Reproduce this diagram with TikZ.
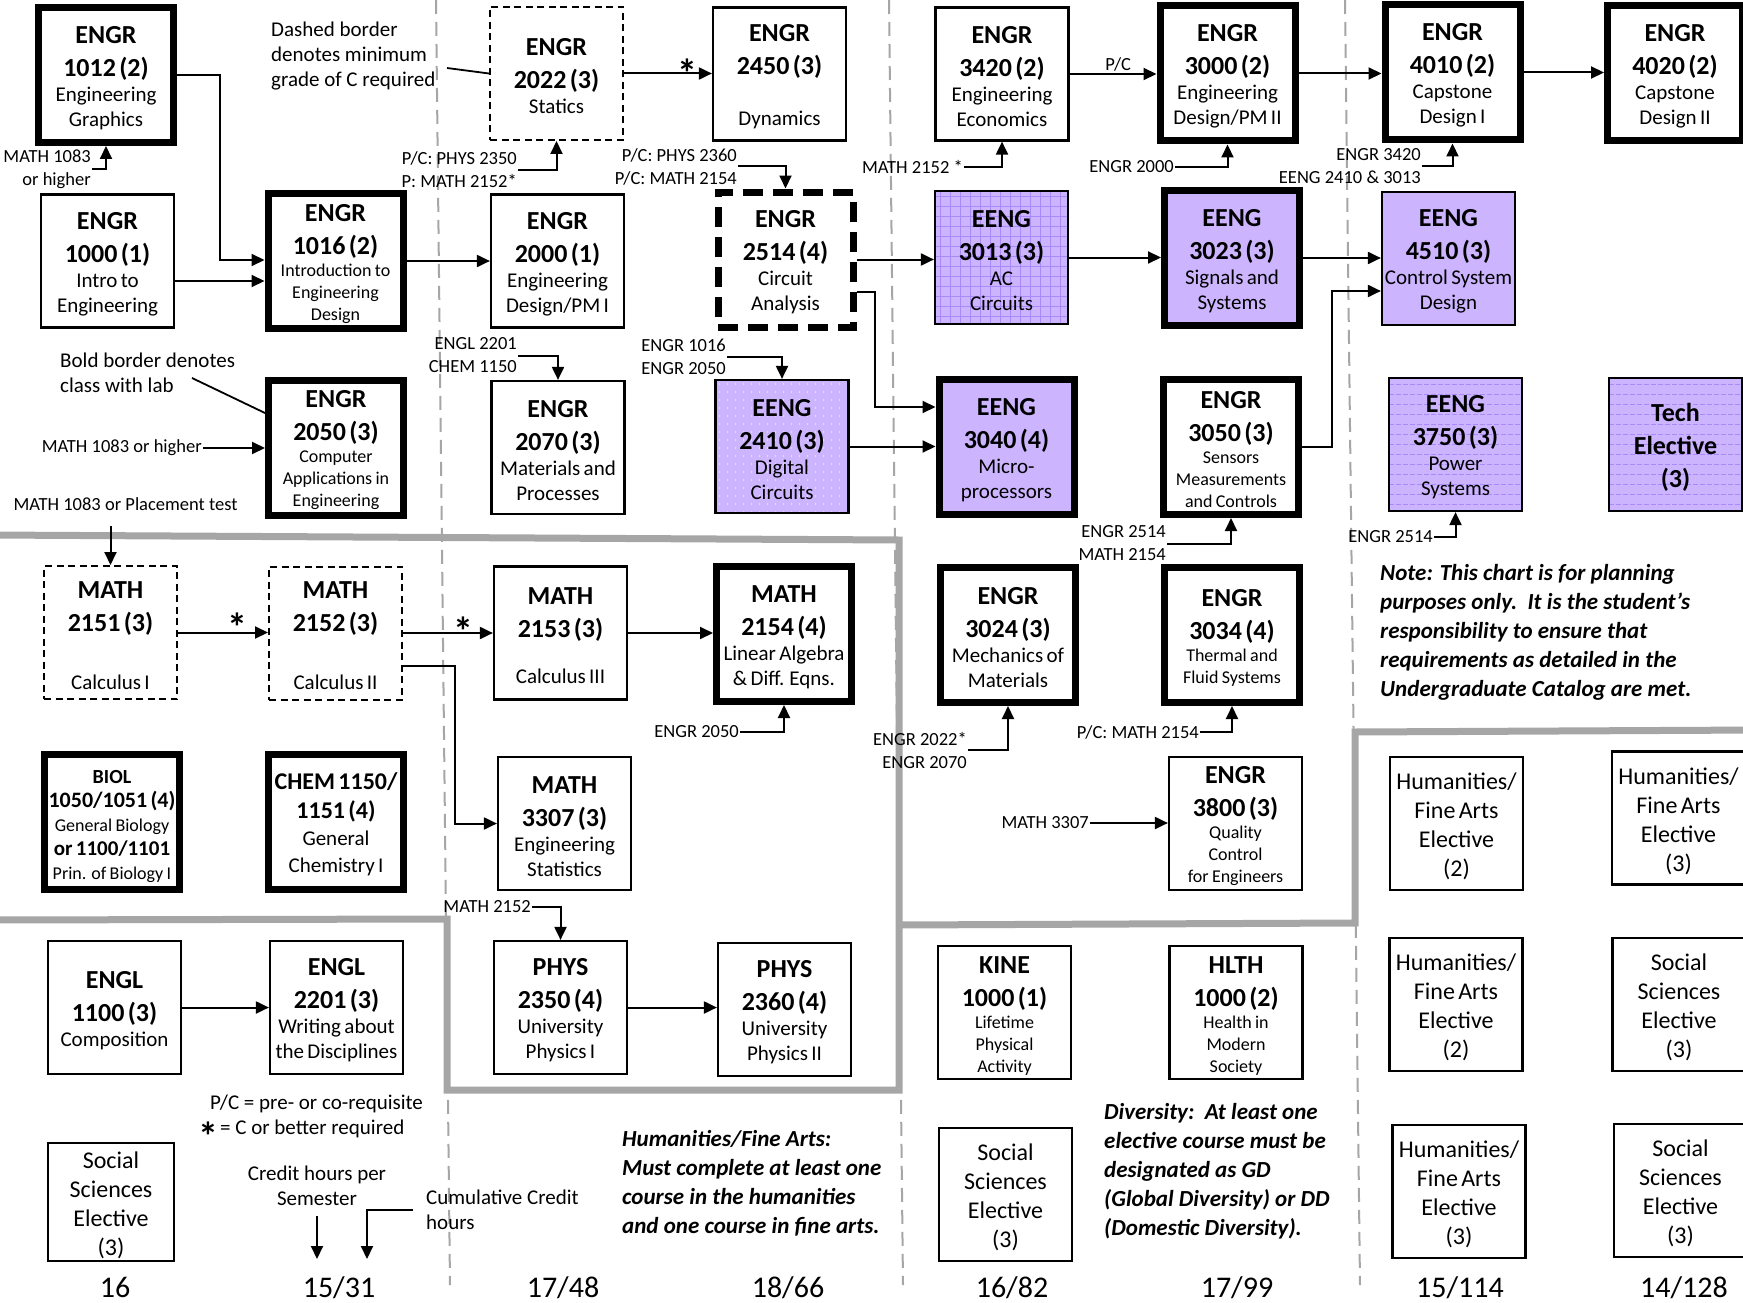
\documentclass[tikz,border=0pt]{standalone}
\usepackage{fontspec}
\setmainfont{Carlito}
\usetikzlibrary{arrows.meta}
\setlength{\parindent}{0pt}
\definecolor{lav}{RGB}{204,180,255}
\definecolor{lavline}{RGB}{168,138,248}
\definecolor{sepgray}{RGB}{166,166,166}
\newcommand\fTit{\fontsize{26}{33}\selectfont\bfseries}
\newcommand\fSubA{\fontsize{21}{25}\selectfont\mdseries}
\newcommand\fSubB{\fontsize{18}{22}\selectfont\mdseries}
\newcommand\fElec{\fontsize{24}{29}\selectfont\mdseries}
\newcommand\fLab{\fontsize{18.5}{23}\selectfont}
\newcommand\fNote{\fontsize{21}{25}\selectfont}
\newcommand\fBI{\fontsize{23}{29}\selectfont\bfseries\itshape}
\newcommand\fNum{\fontsize{30}{36}\selectfont}
\newcommand\fStar{\fontsize{40}{40}\selectfont\bfseries}
\newcommand\oneline[1]{\mbox{#1}\par}
\tikzset{
  crs/.style={draw, rectangle, inner sep=0pt, align=center, line width=2.2pt,
    minimum width=133pt, minimum height=133pt, text width=131pt,
    execute at begin node={\centering\rule{0pt}{23pt}}},
  labbox/.style={crs, line width=7pt, minimum width=135pt, minimum height=135pt},
  dbox/.style={crs, line width=2pt, dash pattern=on 7pt off 4.5pt},
  ee/.style={fill=lav},
  arr/.style={line width=2pt, -{Triangle[length=13pt,width=12pt]}},
  thinln/.style={line width=1.8pt},
  lbl/.style={inner sep=1pt, font=\fLab, align=right, anchor=east},
  grayband/.style={line width=7pt, sepgray, line join=miter},
  colsepline/.style={line width=2pt, sepgray, dash pattern=on 14pt off 8pt},
  starl/.style={font=\fStar, inner sep=0pt, anchor=base},
  numtxt/.style={font=\fNum, anchor=base, inner sep=0pt},
  notebi/.style={anchor=west, align=left, font=\fBI, inner sep=0pt},
  gridpat/.style={path picture={
    \foreach \k in {5,15,...,135}{
      \draw[lavline, line width=0.7pt] ([xshift=\k*1pt]path picture bounding box.north west) -- ([xshift=\k*1pt]path picture bounding box.south west);
      \draw[lavline, line width=0.7pt] ([yshift=-\k*1pt]path picture bounding box.north west) -- ([yshift=-\k*1pt]path picture bounding box.north east);
    }}},
  hpat/.style={path picture={
    \foreach \k in {6,16,...,136}{
      \draw[lavline, line width=0.8pt, dash pattern=on 5pt off 2pt] ([yshift=-\k*1pt]path picture bounding box.north west) -- ([yshift=-\k*1pt]path picture bounding box.north east);
    }}},
  dotpat/.style={path picture={
    \foreach \i in {4,12,...,132}{\foreach \j in {4,12,...,132}{
      \fill[white, opacity=0.6] ([xshift=\i*1pt,yshift=-\j*1pt]path picture bounding box.north west) circle[radius=0.8pt];
    }}}}
}
\begin{document}
\begin{tikzpicture}[x=1pt,y=-1pt]
\useasboundingbox (0,0) rectangle (1743,1303);
\clip (0,0) rectangle (1743,1303);
\fill[white] (0,0) rectangle (1743,1303);

% semester separators
\draw[colsepline] (436,0) -- (450,1285);
\draw[colsepline] (889,0) -- (903,1285);
\draw[colsepline] (1345,0) -- (1360,1285);
% gray bands
\draw[grayband] (-10,535) -- (899,540) -- (899,1090) -- (447,1090) -- (447,919) -- (-10,920);
\draw[grayband] (1760,730) -- (1355,732) -- (1355,923) -- (899,925);

% ---- column 1
\node[labbox] (E1012) at (106,75) {\fTit\oneline{ENGR}\oneline{1012 (2)}\fSubA\oneline{Engineering}\oneline{Graphics}};
\node[crs] (E1000) at (107.5,261) {\fTit\oneline{ENGR}\oneline{1000 (1)}\fSubA\oneline{Intro to}\oneline{Engineering}};
\node[labbox] (E1016) at (335.5,261) {\fTit\oneline{ENGR}\oneline{1016 (2)}\fSubB\oneline{Introduction to}\oneline{Engineering}\oneline{Design}};
\node[labbox] (E2050) at (336,447.5) {\fTit\oneline{ENGR}\oneline{2050 (3)}\fSubB\oneline{Computer}\oneline{Applications in}\oneline{Engineering}};
\node[dbox] (M2151) at (110.5,632.5) {\fTit\oneline{MATH}\oneline{2151 (3)}\vspace{33pt}\fSubA\oneline{Calculus I}};
\node[dbox] (M2152) at (335.5,633) {\fTit\oneline{MATH}\oneline{2152 (3)}\vspace{33pt}\fSubA\oneline{Calculus II}};
\node[labbox] (BIOL) at (112,821.5) {\fontsize{20}{24}\selectfont\bfseries\oneline{BIOL}\fontsize{22}{24}\selectfont\oneline{1050/1051 (4)}\fontsize{18}{24}\selectfont\mdseries\oneline{General Biology}\fontsize{21}{24}\selectfont\bfseries\oneline{or 1100/1101}\fontsize{18}{24}\selectfont\mdseries\oneline{Prin. of Biology I}};
\node[labbox] (CHEM) at (336,821.5) {\fontsize{24}{29}\selectfont\bfseries\oneline{CHEM 1150/}\oneline{1151 (4)}\fontsize{21}{27}\selectfont\mdseries\oneline{General}\oneline{Chemistry I}};
\node[crs] (E1100) at (114.5,1007.5) {\fTit\oneline{ENGL}\oneline{1100 (3)}\fSubA\oneline{Composition}};
\node[crs] (E2201) at (336.5,1007.5) {\fTit\oneline{ENGL}\oneline{2201 (3)}\fSubA\oneline{Writing about}\oneline{the Disciplines}};
\node[crs, minimum width=126pt, minimum height=118pt, text width=124pt] (SS1) at (111,1202) {\fElec\oneline{Social}\oneline{Sciences}\oneline{Elective}\oneline{(3)}};

% ---- column 2
\node[dbox] (E2022) at (556.5,73.5) {\fTit\oneline{ENGR}\oneline{2022 (3)}\fSubA\oneline{Statics}};
\node[crs] (E2450) at (779.5,74) {\fTit\oneline{ENGR}\oneline{2450 (3)}\vspace{26pt}\fSubA\oneline{Dynamics}};
\node[crs] (E2000) at (557.5,261) {\fTit\oneline{ENGR}\oneline{2000 (1)}\fSubA\oneline{Engineering}\oneline{Design/PM I}};
\node[labbox, dash pattern=on 20pt off 10pt] (E2514) at (785.5,259.5) {\fTit\oneline{ENGR}\oneline{2514 (4)}\fSubA\oneline{Circuit}\oneline{Analysis}};
\node[crs] (E2070) at (558,447.5) {\fTit\oneline{ENGR}\oneline{2070 (3)}\fSubA\oneline{Materials and}\oneline{Processes}};
\node[crs, ee, dotpat] (EE2410) at (782,446.5) {\fTit\oneline{EENG}\oneline{2410 (3)}\fSubA\oneline{Digital}\oneline{Circuits}};
\node[crs] (M2153) at (560.5,633) {\fTit\oneline{MATH}\oneline{2153 (3)}\vspace{21pt}\fSubA\oneline{Calculus III}};
\node[labbox] (M2154) at (784,634) {\fTit\oneline{MATH}\oneline{2154 (4)}\fSubA\oneline{Linear Algebra}\oneline{\& Diff. Eqns.}};
\node[crs] (M3307) at (564.5,823.5) {\fTit\oneline{MATH}\oneline{3307 (3)}\fSubA\oneline{Engineering}\oneline{Statistics}};
\node[crs] (P2350) at (560.5,1007.5) {\fTit\oneline{PHYS}\oneline{2350 (4)}\fSubA\oneline{University}\oneline{Physics I}};
\node[crs] (P2360) at (784.5,1009.5) {\fTit\oneline{PHYS}\oneline{2360 (4)}\fSubA\oneline{University}\oneline{Physics II}};

% ---- column 3
\node[crs] (E3420) at (1002,74) {\fTit\oneline{ENGR}\oneline{3420 (2)}\fSubA\oneline{Engineering}\oneline{Economics}};
\node[labbox] (E3000) at (1227.5,73.5) {\fTit\oneline{ENGR}\oneline{3000 (2)}\fSubA\oneline{Engineering}\oneline{Design/PM II}};
\node[crs, ee, gridpat] (EE3013) at (1001.5,257.5) {\fTit\oneline{EENG}\oneline{3013 (3)}\fSubA\oneline{AC}\oneline{Circuits}};
\node[labbox, ee] (EE3023) at (1232,258) {\fTit\oneline{EENG}\oneline{3023 (3)}\fSubA\oneline{Signals and}\oneline{Systems}};
\node[labbox, ee] (EE3040) at (1006.5,447) {\fTit\oneline{EENG}\oneline{3040 (4)}\fSubA\oneline{Micro-}\oneline{processors}};
\node[labbox] (E3050) at (1231,447) {\fTit\oneline{ENGR}\oneline{3050 (3)}\fSubB\oneline{Sensors}\oneline{Measurements}\oneline{and Controls}};
\node[labbox] (E3024) at (1008,635) {\fTit\oneline{ENGR}\oneline{3024 (3)}\fSubA\oneline{Mechanics of}\oneline{Materials}};
\node[labbox] (E3034) at (1232,635) {\fTit\oneline{ENGR}\oneline{3034 (4)}\fSubB\oneline{Thermal and}\oneline{Fluid Systems}};
\node[crs] (E3800) at (1235.5,823.5) {\fTit\oneline{ENGR}\oneline{3800 (3)}\fSubB\oneline{Quality}\oneline{Control}\oneline{for Engineers}};
\node[crs] (KINE) at (1004.5,1012.5) {\fTit\oneline{KINE}\oneline{1000 (1)}\fSubB\oneline{Lifetime}\oneline{Physical}\oneline{Activity}};
\node[crs] (HLTH) at (1236,1012.5) {\fTit\oneline{HLTH}\oneline{1000 (2)}\fSubB\oneline{Health in}\oneline{Modern}\oneline{Society}};
\node[crs] (SS2) at (1005.5,1194.5) {\fElec\oneline{Social}\oneline{Sciences}\oneline{Elective}\oneline{(3)}};

% ---- column 4
\node[labbox] (E4010) at (1452.5,72.5) {\fTit\oneline{ENGR}\oneline{4010 (2)}\fSubA\oneline{Capstone}\oneline{Design I}};
\node[labbox] (E4020) at (1675,73.5) {\fTit\oneline{ENGR}\oneline{4020 (2)}\fSubA\oneline{Capstone}\oneline{Design II}};
\node[crs, ee] (EE4510) at (1448.5,258.5) {\fTit\oneline{EENG}\oneline{4510 (3)}\fSubA\oneline{Control System}\oneline{Design}};
\node[crs, ee, hpat] (EE3750) at (1455.5,444.5) {\fTit\oneline{EENG}\oneline{3750 (3)}\fSubA\oneline{Power}\oneline{Systems}};
\node[crs, ee, hpat] (TECH) at (1675.5,444.5) {\fTit\oneline{Tech}\oneline{Elective}\oneline{(3)}};
\node[crs] (HF1) at (1456.5,823.5) {\fElec\oneline{Humanities/}\oneline{Fine Arts}\oneline{Elective}\oneline{(2)}};
\node[crs] (HF2) at (1678.5,818) {\fElec\oneline{Humanities/}\oneline{Fine Arts}\oneline{Elective}\oneline{(3)}};
\node[crs] (HF3) at (1456,1004.5) {\fElec\oneline{Humanities/}\oneline{Fine Arts}\oneline{Elective}\oneline{(2)}};
\node[crs] (SS3) at (1679,1004.5) {\fElec\oneline{Social}\oneline{Sciences}\oneline{Elective}\oneline{(3)}};
\node[crs] (HF4) at (1459,1191.5) {\fElec\oneline{Humanities/}\oneline{Fine Arts}\oneline{Elective}\oneline{(3)}};
\node[crs] (SS4) at (1680.5,1190.5) {\fElec\oneline{Social}\oneline{Sciences}\oneline{Elective}\oneline{(3)}};

% ---- labels
\node[lbl] (L1083a) at (92,169) {MATH 1083\\or higher};
\node[lbl] (L1083b) at (203,448) {MATH 1083 or higher};
\node[inner sep=1pt, font=\fLab] (Lplace) at (125.5,504) {MATH 1083 or Placement test};
\node[anchor=west, align=left, font=\fNote, inner sep=0pt] (Ldash) at (271,56) {Dashed border\\denotes minimum\\grade of C required};
\node[anchor=west, align=left, font=\fNote, inner sep=0pt] (Lbold) at (60,372.5) {Bold border denotes\\class with lab};
\node[lbl] (LP2350) at (518,170) {P/C: PHYS 2350\\P: MATH 2152*};
\node[lbl] (LP2360) at (738,166.5) {P/C: PHYS 2360\\P/C: MATH 2154};
\node[lbl] (LENGL) at (518,355.5) {ENGL 2201\\CHEM 1150};
\node[lbl] (LE1016) at (727,356.5) {ENGR 1016\\ENGR 2050};
\node[lbl] (LM2152a) at (964,167) {MATH 2152 *};
\node[lbl] (LE2000) at (1175,167) {ENGR 2000};
\node[lbl] (LE3420) at (1422,166.5) {ENGR 3420\\EENG 2410 \& 3013};
\node[lbl] (LE2514b) at (1434,537) {ENGR 2514};
\node[lbl] (LE2050) at (740,732) {ENGR 2050};
\node[lbl] (LE2514) at (1167,543.5) {ENGR 2514\\MATH 2154};
\node[lbl] (LE2022) at (968,750) {ENGR 2022*\\ENGR 2070};
\node[lbl] (LPCM) at (1200,732) {P/C: MATH 2154};
\node[lbl] (LM3307) at (1090,823) {MATH 3307};
\node[lbl] (LM2152b) at (532,907) {MATH 2152};

% ---- label connectors
\coordinate (ps) at (110.5,526);
\coordinate (dl) at (447,68);
\coordinate (bl) at (192,378);
\coordinate (b2) at (0,413);
\draw[arr] (L1083a.east) -| (E1012.south);
\draw[arr] (L1083b.east) -- (L1083b.east -| E2050.west);
\draw[arr] (ps) -- (M2151.north);
\draw[thinln] (dl) -- (E2022.west);
\draw[thinln] (bl) -- (E2050.west |- b2);
\draw[arr] (LP2350.east) -| (E2022.south);
\draw[arr] (LP2360.east) -| (E2514.north);
\draw[arr] (LENGL.east) -| (E2070.north);
\draw[arr] (LE1016.east) -| (EE2410.north);
\draw[arr] (LM2152a.east) -| (E3420.south);
\draw[arr] (LE2000.east) -| (E3000.south);
\draw[arr] (LE3420.east) -| (E4010.south);
\draw[arr] (LE2514b.east) -| (EE3750.south);
\draw[arr] (LE2050.east) -| (M2154.south);
\draw[arr] (LE2514.east) -| (E3050.south);
\draw[arr] (LE2022.east) -| (E3024.south);
\draw[arr] (LPCM.east) -| (E3034.south);
\draw[arr] (LM3307.east) -- (LM3307.east -| E3800.west);
\draw[arr] (LM2152b.east) -| (P2350.north);

% ---- course connectors
\draw[arr] (E1012.east) -- ++(43,0) |- ([yshift=1pt]E1016.west);
\draw[arr] ([yshift=-20pt]E1000.east) -- ([yshift=-20pt]E1016.west);
\draw[arr] (E1016.east) -- (E1016.east -| E2000.west);
\draw[arr] (E2022.east) -- node[starl, pos=0.72, yshift=-14pt] {*} (E2022.east -| E2450.west);
\draw[arr] (M2151.east) -- node[starl, pos=0.66, yshift=-9pt] {*} (M2151.east -| M2152.west);
\draw[arr] (M2152.east) -- node[starl, pos=0.67, yshift=-12pt] {*} (M2152.east -| M2153.west);
\draw[arr] ([yshift=-33pt]M2152.east) -- ++(52,0) |- (M3307.west);
\draw[arr] (M2153.east) -- (M2153.east -| M2154.west);
\draw[arr] (E1100.east) -- (E1100.east -| E2201.west);
\draw[arr] (P2350.east) -- (P2350.east -| P2360.west);
\draw[arr] (E2514.east) -- (E2514.east -| EE3013.west);
\draw[arr] ([yshift=-32.5pt]E2514.east) -- ++(18,0) |- ([yshift=40pt]EE3040.west);
\draw[arr] (EE2410.east) -- (EE2410.east -| EE3040.west);
\draw[arr] (E3420.east) -- node[above, font=\fLab, pos=0.56, inner sep=2pt] {P/C} (E3420.east -| E3000.west);
\draw[arr] (EE3013.east) -- (EE3013.east -| EE3023.west);
\draw[arr] (E3000.east) -- (E3000.east -| E4010.west);
\draw[arr] (EE3023.east) -- (EE3023.east -| EE4510.west);
\draw[arr] (E3050.east) -- ++(30,0) |- ([yshift=-32.5pt]EE4510.west);
\draw[arr] (E4010.east) -- (E4010.east -| E4020.west);

% ---- legend and notes
\node[anchor=base west, font=\fNote, inner sep=0pt] (LPC) at (210,1109) {P/C = pre- or co-requisite};
\node[anchor=base west, font=\fNote, inner sep=0pt] (LSTAR) at (198,1134) {\raisebox{-16pt}{\fontsize{40}{40}\selectfont\bfseries *}\hspace{2pt}= C or better required};
\node[font=\fNote, align=center, inner sep=0pt] (LCRED) at (317,1186) {Credit hours per\\Semester};
\node[anchor=west, font=\fNote, align=left, inner sep=0pt] (LCUM) at (426,1210) {Cumulative Credit\\hours};
\coordinate (a1) at (317,1259);
\coordinate (a2) at (367,1259);
\draw[arr] ([yshift=-10pt]LCRED.south) -- (a1);
\draw[arr] ([xshift=-13pt]LCUM.west) -| (a2);

\node[notebi] (NHUM) at (622,1183.5) {Humanities/Fine Arts:\\Must complete at least one\\course in the humanities\\and one course in fine arts.};
\node[notebi] (NDIV) at (1104,1171) {Diversity:\ \ At least one\\elective course must be\\designated as GD\\(Global Diversity) or DD\\(Domestic Diversity).};
\node[notebi] (NPLAN) at (1380,632) {Note: This chart is for planning\\purposes only.\ \ It is the student’s\\responsibility to ensure that\\requirements as detailed in the\\Undergraduate Catalog are met.};

% ---- credit totals
\node[numtxt] (N1) at (115,1297) {16};
\node[numtxt] (N2) at (339,1297) {15/31};
\node[numtxt] (N3) at (563,1297) {17/48};
\node[numtxt] (N4) at (788,1297) {18/66};
\node[numtxt] (N5) at (1012,1297) {16/82};
\node[numtxt] (N6) at (1237,1297) {17/99};
\node[numtxt] (N7) at (1460,1297) {15/114};
\node[numtxt] (N8) at (1684,1297) {14/128};
\end{tikzpicture}
\end{document}
